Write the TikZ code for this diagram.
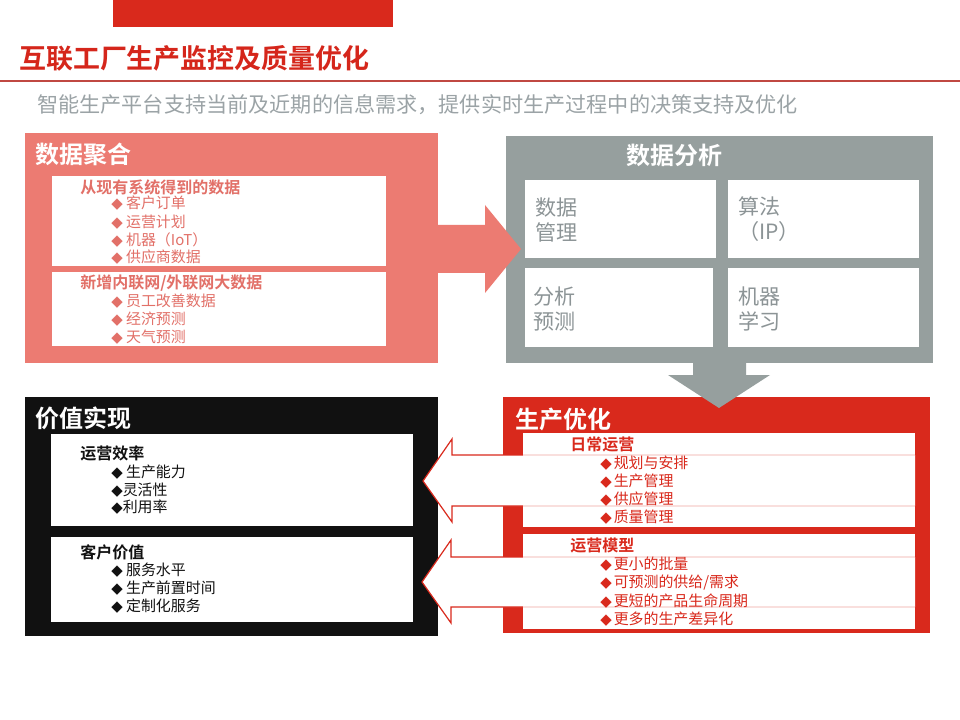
\documentclass[tikz,border=0pt]{standalone}
\usepackage{fontspec}
\setmainfont{Noto Sans CJK SC}[BoldFont={Noto Sans CJK SC Bold}]
\newfontfamily\symfont{DejaVu Sans}
\newcommand{\itemdia}{{\symfont ◆}}
\usetikzlibrary{fit,positioning}
\definecolor{SlideRed}{RGB}{217,41,28}
\definecolor{TitleRed}{RGB}{213,38,27}
\definecolor{RuleRed}{RGB}{192,72,66}
\definecolor{AggSalmon}{RGB}{236,123,114}
\definecolor{AggText}{RGB}{226,112,104}
\definecolor{AnaGray}{RGB}{150,159,158}
\definecolor{CellText}{RGB}{140,148,150}
\definecolor{ValBlack}{RGB}{17,17,17}
\definecolor{SubGray}{RGB}{155,163,166}

\begin{document}
\begin{tikzpicture}[x=0.75pt, y=-0.75pt,
    panel/.style={inner sep=0pt, outer sep=0pt},
    card/.style={inner sep=0pt, outer sep=0pt, fill=white},
    ptitle/.style={anchor=west, inner sep=0pt, text=white, font=\bfseries\fontsize{18}{20}\selectfont},
    head/.style={anchor=west, inner sep=0pt, font=\bfseries\fontsize{12}{14}\selectfont},
    item/.style={anchor=west, inner sep=0pt, font=\fontsize{11.2}{13}\selectfont},
    cell/.style={anchor=west, inner sep=0pt, align=left, text=CellText, font=\fontsize{15.8}{18.75}\selectfont}]
    \fill[white] (0,0) rectangle (960,720);
    \useasboundingbox (0,0) rectangle (960,720);
    % Draw header
    \node[panel, fill=SlideRed, fit={(113,0) (393,27)}] (bar) {};
    \node[anchor=west, inner sep=0pt, text=TitleRed, font=\bfseries\fontsize{20.2}{22}\selectfont] (title) at (19,58) {互联工厂生产监控及质量优化};
    \draw[RuleRed, line width=0.8pt] (0,81) -- (960,81);
    \node[anchor=west, inner sep=0pt, text=SubGray, font=\fontsize{15.85}{18}\selectfont] (sub) at (37,105) {智能生产平台支持当前及近期的信息需求，提供实时生产过程中的决策支持及优化};
    % Draw data aggregation panel
    \node[panel, fill=AggSalmon, fit={(25,133) (438,363)}] (agg) {};
    \node[card, fit={(52,176) (386,266)}] (agg1) {};
    \node[card, fit={(52,272) (386,346)}] (agg2) {};
    \node[ptitle] (aggt) at (35,154) {数据聚合};
    \node[head, text=AggText] (agg1h) at (80,187) {从现有系统得到的数据};
    \node[item, text=AggText] (agg1a) at (111,203) {\itemdia\ 客户订单};
    \node[item, text=AggText] (agg1b) at (111,222) {\itemdia\ 运营计划};
    \node[item, text=AggText] (agg1c) at (111,240) {\itemdia\ 机器（IoT）};
    \node[item, text=AggText] (agg1d) at (111,257) {\itemdia\ 供应商数据};
    \node[head, text=AggText] (agg2h) at (80,283) {新增内联网/外联网大数据};
    \node[item, text=AggText] (agg2a) at (111,301) {\itemdia\ 员工改善数据};
    \node[item, text=AggText] (agg2b) at (111,319) {\itemdia\ 经济预测};
    \node[item, text=AggText] (agg2c) at (111,337) {\itemdia\ 天气预测};
    % Draw data analysis panel
    \node[panel, fill=AnaGray, fit={(506,136) (933,363)}] (ana) {};
    \node[card, fit={(525,180) (716,258)}] (ana1) {};
    \node[card, fit={(728,180) (919,258)}] (ana2) {};
    \node[card, fit={(525,268) (713,347)}] (ana3) {};
    \node[card, fit={(728,268) (919,347)}] (ana4) {};
    \node[inner sep=0pt, text=white, font=\bfseries\fontsize{18}{20}\selectfont] (anat) at (674,155) {数据分析};
    \node[cell] (ana1t) at (535,219.5) {数据\\管理};
    \node[cell] (ana2t) at (738,219.5) {算法\\（IP）};
    \node[cell] (ana3t) at (533,308.5) {分析\\预测};
    \node[cell] (ana4t) at (738,308.5) {机器\\学习};
    % Draw arrow from aggregation to analysis
    \fill[AggSalmon] (436,225) -- (485,225) -- (485,205) -- (521,249) -- (485,293) -- (485,273) -- (436,273) -- cycle;
    % Draw value panel
    \node[panel, fill=ValBlack, fit={(25,397) (438,636)}] (val) {};
    \node[card, fit={(51,434) (413,526)}] (val1) {};
    \node[card, fit={(51,537) (413,622)}] (val2) {};
    \node[ptitle] (valt) at (35,418) {价值实现};
    \node[head, text=ValBlack] (val1h) at (80,453) {运营效率};
    \node[item, text=ValBlack] (val1a) at (111,472) {\itemdia\ 生产能力};
    \node[item, text=ValBlack] (val1b) at (111,490) {\itemdia 灵活性};
    \node[item, text=ValBlack] (val1c) at (111,507) {\itemdia 利用率};
    \node[head, text=ValBlack] (val2h) at (80,552) {客户价值};
    \node[item, text=ValBlack] (val2a) at (111,570) {\itemdia\ 服务水平};
    \node[item, text=ValBlack] (val2b) at (111,588) {\itemdia\ 生产前置时间};
    \node[item, text=ValBlack] (val2c) at (111,606) {\itemdia\ 定制化服务};
    % Draw production optimisation panel
    \node[panel, fill=SlideRed, fit={(503,397) (930,633)}] (opt) {};
    \node[card, fit={(523,433) (915,527)}] (opt1) {};
    \node[card, fit={(523,534) (915,629)}] (opt2) {};
    \node[ptitle] (optt) at (515,419) {生产优化};
    % Draw arrows from optimisation to value
    \fill[white] (915,455) -- (452,455) -- (452,439) -- (423,481) -- (452,522) -- (452,506) -- (915,506) -- cycle;
    \draw[SlideRed, line width=0.9pt] (523,455) -- (452,455) -- (452,439) -- (423,481) -- (452,522) -- (452,506) -- (523,506);
    \draw[SlideRed!15, line width=0.9pt] (523,455) -- (915,455) (523,506) -- (915,506);
    \fill[white] (915,557) -- (451,557) -- (451,540) -- (422,582) -- (451,623) -- (451,607) -- (915,607) -- cycle;
    \draw[SlideRed, line width=0.9pt] (523,557) -- (451,557) -- (451,540) -- (422,582) -- (451,623) -- (451,607) -- (523,607);
    \draw[SlideRed!15, line width=0.9pt] (523,557) -- (915,557) (523,607) -- (915,607);
    \node[head, text=SlideRed] (opt1h) at (570,445) {日常运营};
    \node[item, text=SlideRed] (opt1a) at (600,463) {\itemdia\kern1.5pt 规划与安排};
    \node[item, text=SlideRed] (opt1b) at (600,481) {\itemdia\kern1.5pt 生产管理};
    \node[item, text=SlideRed] (opt1c) at (600,499) {\itemdia\kern1.5pt 供应管理};
    \node[item, text=SlideRed] (opt1d) at (600,517) {\itemdia\kern1.5pt 质量管理};
    \node[head, text=SlideRed] (opt2h) at (570,546) {运营模型};
    \node[item, text=SlideRed] (opt2a) at (600,564) {\itemdia\kern1.5pt 更小的批量};
    \node[item, text=SlideRed] (opt2b) at (600,583) {\itemdia\kern1.5pt 可预测的供给/需求};
    \node[item, text=SlideRed] (opt2c) at (600,601) {\itemdia\kern1.5pt 更短的产品生命周期};
    \node[item, text=SlideRed] (opt2d) at (600,619) {\itemdia\kern1.5pt 更多的生产差异化};
    % Draw arrow from analysis to optimisation
    \fill[AnaGray] (693,363) -- (746,363) -- (746,375) -- (770,375) -- (719,408) -- (668,375) -- (693,375) -- cycle;
\end{tikzpicture}
\end{document}
